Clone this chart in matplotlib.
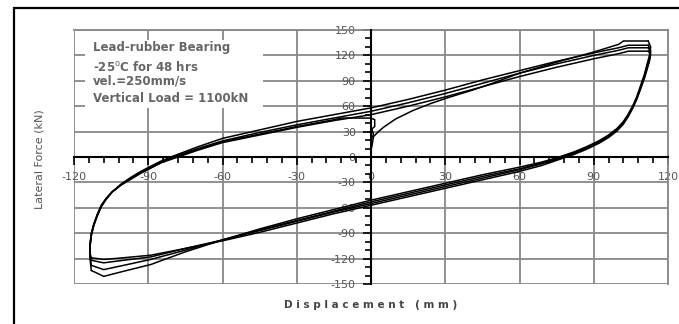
import numpy as np
import matplotlib
matplotlib.use("Agg")
import matplotlib.pyplot as plt
from matplotlib.patches import Rectangle
from matplotlib.ticker import MultipleLocator

plt.rcParams['axes.unicode_minus'] = False
plt.rcParams['font.family'] = ['DejaVu Sans']

# initial loading from rest up to the first positive peak
load_x = [0, 0.5, 1, 3, 5, 10, 17, 24, 31, 41, 50, 60, 75, 90, 100, 102, 112]
load_y = [8, 15, 24, 30, 35, 45, 55, 63, 70, 79, 88, 99, 112, 124, 133, 137, 137]

# unloading branches (positive peak -> negative peak)
dn_x = [112, 113, 112.5, 111.5, 110.5, 109, 107.5, 106, 104, 102, 99.5, 96, 92, 87, 82, 75,
        69, 60, 45, 30, 15, 0, -15, -30, -45, -60, -75, -89, -100, -108, -113]
dn1_y = [137, 130, 120, 109, 98, 85, 72, 62, 51, 42, 34, 26, 19, 12, 6, -1,
         -6, -12, -21, -31, -41, -51, -62, -73, -85, -98, -112, -127, -135, -141, -134]
dn2_y = [132, 126, 117, 107, 96, 83, 71, 61, 50, 41, 33, 25, 18, 11, 5, -2,
         -7, -14, -23, -33, -43, -53, -64, -75, -86, -98, -110, -121, -128, -133, -128]
dn3_y = [129, 124, 115, 105, 95, 82, 70, 60, 49, 40, 32, 24, 17, 10, 4, -3,
         -8, -15, -25, -35, -45, -55, -65, -76, -87, -98, -108, -118, -122, -125, -122]
dn4_y = [125, 121, 113, 103, 93, 81, 69, 59, 48, 39, 31, 23, 16, 9, 3, -4,
         -10, -17, -27, -37, -47, -57, -67, -78, -89, -99, -108, -116, -119, -121, -119]

# reloading branches (negative peak -> positive peak)
up_x = [-113, -113.5, -113.5, -113, -112, -110.5, -109, -107, -104.5, -101, -97, -93, -89, -85,
        -80, -70, -60, -45, -30, -15, 0, 15, 30, 45, 60, 75, 90, 100, 104, 112]
up1_y = [-134, -121, -106, -93, -81, -69, -59, -50, -41, -32, -24, -17, -11, -5,
         1, 12, 22, 32, 42, 50, 58, 68, 79, 91, 102, 113, 123, 129, 132, 132]
up2_y = [-128, -118, -104, -92, -80, -68, -58, -49, -41, -33, -25, -18, -12, -6,
         0, 10, 19, 29, 38, 46, 54, 64, 75, 87, 99, 110, 120, 126, 129, 129]
up3_y = [-122, -116, -103, -91, -80, -68, -58, -49, -41, -33, -26, -19, -13, -7,
         -2, 8, 17, 26, 35, 43, 50, 60, 71, 83, 95, 106, 116, 122, 125, 125]

# last half cycle, stopped at zero displacement
end_x = [-113, -113.5, -113.5, -113, -112, -110.5, -109, -107, -104.5, -101, -97, -93, -89, -85,
         -80, -70, -60, -45, -30, -15, -12, 0, 1.5, 1.5, 0.3, 1, 0, 0]
end_y = [-119, -114, -102, -90, -79, -67, -57, -49, -41, -33, -26, -19, -13, -7,
         -1, 9, 18, 27, 36, 44, 46, 46, 44, 36, 33, 27, 20, 8]

x_ticks = [-120, -90, -60, -30, 0, 30, 60, 90, 120]
y_ticks = [-150, -120, -90, -60, -30, 0, 30, 60, 90, 120, 150]

info_lines = ["Lead-rubber Bearing", "-25$^{\\rm o}$C for 48 hrs",
              "vel.=250mm/s", "Vertical Load = 1100kN"]

W, H = 679, 324
fig = plt.figure(figsize=(W / 100, H / 100), dpi=100)
ax = fig.add_axes([74 / W, (H - 284) / H, (668 - 74) / W, (284 - 30) / H])

grey = '#888888'
ax.set_xlim(-120, 120)
ax.set_ylim(-150, 150)
ax.set_xticks(x_ticks)
ax.set_yticks(y_ticks)
ax.set_xticklabels([str(v) for v in x_ticks])
ax.set_yticklabels([str(v) for v in y_ticks])
ax.xaxis.set_minor_locator(MultipleLocator(6))
ax.yaxis.set_minor_locator(MultipleLocator(10))
ax.grid(True, which='major', color=grey, linewidth=1.3)
ax.set_axisbelow(True)

ax.spines['left'].set_position('zero')
ax.spines['bottom'].set_position('zero')
for s in ['left', 'bottom']:
    ax.spines[s].set_linewidth(1.5)
    ax.spines[s].set_color('black')
    ax.spines[s].set_zorder(4)
for s in ['top', 'right']:
    ax.spines[s].set_color(grey)
    ax.spines[s].set_linewidth(1.3)

ax.tick_params(which='major', direction='out', length=6, width=1.2,
               labelsize=8, labelcolor='#555555')
ax.tick_params(which='minor', direction='out', length=4, width=1.2)
ax.tick_params(axis='x', pad=5)
ax.tick_params(axis='y', pad=5)

# hysteresis loops
lw = 1.1
ax.plot(load_x, load_y, color='black', lw=lw, zorder=3)
for yy in [dn1_y, dn2_y, dn3_y, dn4_y]:
    ax.plot(dn_x, yy, color='black', lw=lw, zorder=3)
for yy in [up1_y, up2_y, up3_y]:
    ax.plot(up_x, yy, color='black', lw=lw, zorder=3)
ax.plot(end_x, end_y, color='black', lw=lw, zorder=3)

# test conditions box
ax.add_patch(Rectangle((11 / 594, (284 - 108) / 254), 178 / 594, 68 / 254,
                       transform=ax.transAxes, facecolor='white', edgecolor='none', zorder=2.5))
for txt, py in zip(info_lines, [48, 67, 81, 98]):
    ax.text(19 / 594, (284 - py) / 254, txt, transform=ax.transAxes,
            fontsize=8.5, fontweight='bold', color='#666666', va='center', ha='left', zorder=5)

fig.text(40 / W, (H - 159) / H, "Lateral Force (kN)", rotation=90, fontsize=8,
         color='#555555', ha='center', va='center')
fig.text(371 / W, (H - 305) / H, " ".join("Displacement") + "   " + " ".join("(mm)"),
         fontsize=7.5, fontweight='bold', color='#444444', ha='center', va='center')

# outer frame
fig.add_artist(Rectangle((14 / W, -0.1), 1.0, (H - 8) / H + 0.1, transform=fig.transFigure,
                         fill=False, edgecolor='black', linewidth=1.6))

fig.savefig("out.png", dpi=100)
